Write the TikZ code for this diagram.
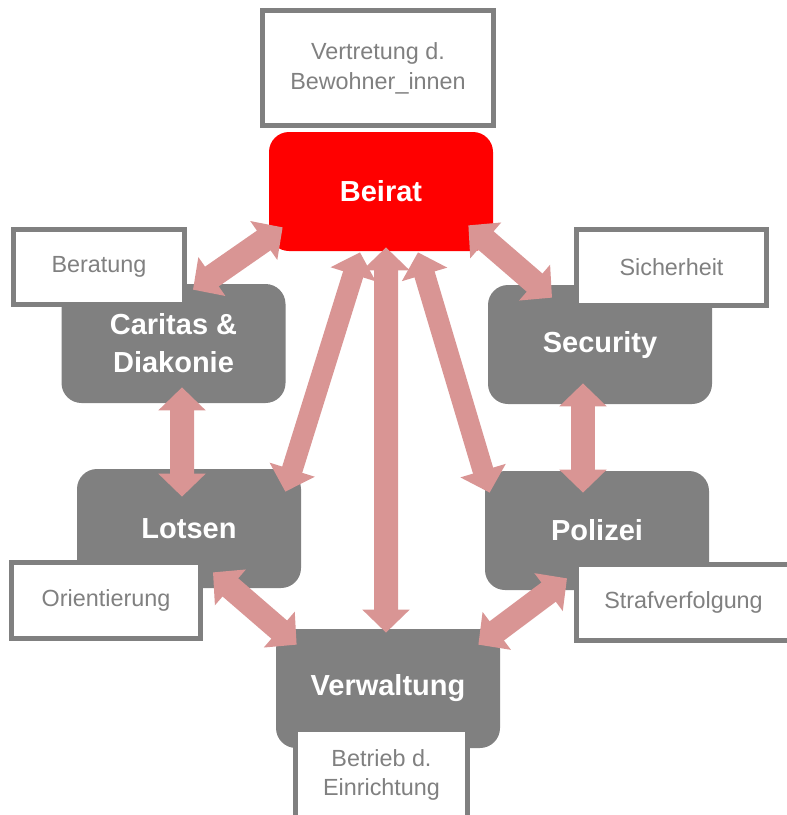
\documentclass[tikz,border=0pt]{standalone}
\usepackage{fontspec}
\setmainfont{Liberation Sans}
\usetikzlibrary{arrows.meta}

\begin{document}
\begin{tikzpicture}[
        unit/.style={rounded corners=0.4cm, fill=unitgray, text=white, minimum width=4.48cm, minimum height=2.38cm,
            align=center, inner sep=0pt, font=\fontsize{16.5}{21.5}\selectfont\bfseries},
        task/.style={draw=unitgray, line width=0.1cm, fill=white, text=unitgray, align=center, inner sep=0pt,
            font=\fontsize{13.3}{17}\selectfont},
        link/.style={draw=linkcolor, line width=0.48cm, >={Triangle[width=0.92cm,length=0.46cm]}, <->}
    ]

    % Цвета
    \definecolor{unitgray}{RGB}{128,128,128}   % серый
    \definecolor{boardred}{RGB}{255,0,0}       % красный
    \definecolor{linkcolor}{RGB}{217,149,148}  % розовый

    \useasboundingbox (0,0) rectangle (15.74,-16.3);

    % Участники
    \node[unit, fill=boardred] (beirat) at (7.62,-3.83) {Beirat};
    \node[unit] (caritas) at (3.47,-6.87) {Caritas \&\\Diakonie};
    \node[unit] (security) at (12.00,-6.89) {Security};
    \node[unit] (lotsen) at (3.78,-10.57) {Lotsen};
    \node[unit] (polizei) at (11.94,-10.61) {Polizei};
    \node[unit] (verwaltung) at (7.76,-13.77) {Verwaltung};

    % Aufgaben
    \node[task, minimum width=4.62cm, minimum height=2.30cm] (vertretung) at (7.56,-1.36) {Vertretung d.\\Bewohner\_innen};
    \node[task, minimum width=3.42cm, minimum height=1.50cm] (beratung) at (1.98,-5.34) {Beratung};
    \node[task, minimum width=3.80cm, minimum height=1.52cm] (sicherheit) at (13.43,-5.35) {Sicherheit};
    \node[task, minimum width=3.78cm, minimum height=1.52cm] (orientierung) at (2.12,-12.01) {Orientierung};
    \node[task, minimum width=4.28cm, minimum height=1.52cm] (strafverfolgung) at (13.67,-12.05) {Strafverfolgung};
    \node[task, minimum width=3.44cm, minimum height=1.82cm] (betrieb) at (7.63,-15.50) {Betrieb d.\\Einrichtung};

    % Связи
    \draw[link] ([shift={(0.39,-0.12)}]caritas.north) -- ([shift={(0.28,0.48)}]beirat.south west);
    \draw[link] ([shift={(-0.50,0.52)}]beirat.south east) -- ([shift={(-0.96,-0.26)}]security.north);
    \draw[link] ([shift={(-0.34,0.42)}]security.south) -- ([shift={(-0.28,-0.44)}]polizei.north);
    \draw[link] ([shift={(0.17,0.32)}]caritas.south) -- ([shift={(-0.14,-0.56)}]lotsen.north);
    \draw[link, line width=0.42cm] ([shift={(-0.42,-0.02)}]beirat.south) -- ([shift={(-0.32,-0.46)}]lotsen.north east);
    \draw[link] ([shift={(0.10,0.08)}]beirat.south) -- ([shift={(-0.04,-0.08)}]verwaltung.north);
    \draw[link, line width=0.42cm] ([shift={(0.74,-0.02)}]beirat.south) -- ([shift={(0.10,-0.44)}]polizei.north west);
    \draw[link] ([shift={(0.48,0.32)}]lotsen.south) -- ([shift={(0.42,-0.32)}]verwaltung.north west);
    \draw[link] ([shift={(-0.60,0.24)}]polizei.south) -- ([shift={(-0.44,-0.32)}]verwaltung.north east);
\end{tikzpicture}
\end{document}
